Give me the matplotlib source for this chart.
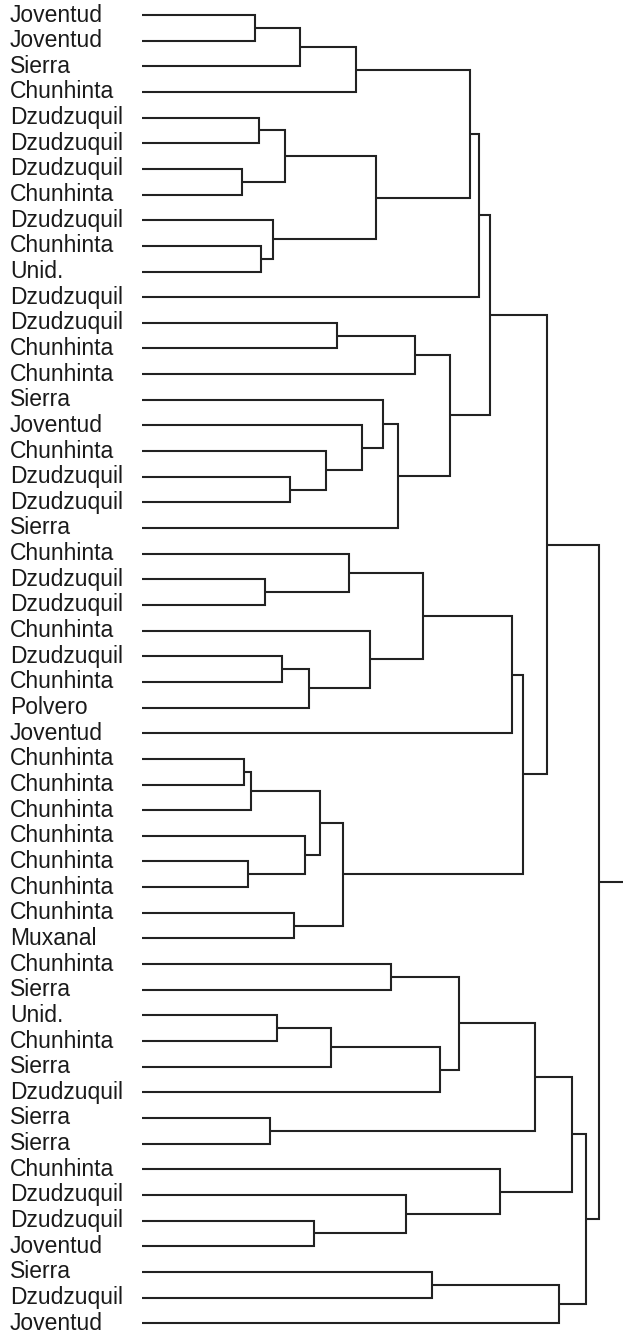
import numpy as np
import matplotlib.pyplot as plt

# leaf labels, top to bottom
labels = ["Joventud", "Joventud", "Sierra", "Chunhinta", "Dzudzuquil", "Dzudzuquil",
          "Dzudzuquil", "Chunhinta", "Dzudzuquil", "Chunhinta", "Unid.", "Dzudzuquil",
          "Dzudzuquil", "Chunhinta", "Chunhinta", "Sierra", "Joventud", "Chunhinta",
          "Dzudzuquil", "Dzudzuquil", "Sierra", "Chunhinta", "Dzudzuquil", "Dzudzuquil",
          "Chunhinta", "Dzudzuquil", "Chunhinta", "Polvero", "Joventud", "Chunhinta",
          "Chunhinta", "Chunhinta", "Chunhinta", "Chunhinta", "Chunhinta", "Chunhinta",
          "Muxanal", "Chunhinta", "Sierra", "Unid.", "Chunhinta", "Sierra",
          "Dzudzuquil", "Sierra", "Sierra", "Chunhinta", "Dzudzuquil", "Dzudzuquil",
          "Joventud", "Sierra", "Dzudzuquil", "Joventud"]

# linkage: node n_leaves + k joins left_child[k] and right_child[k] at merge_height[k]
left_child = [0, 52, 53, 4, 6, 55, 9, 8, 57, 54, 61, 12, 63, 18, 17, 16, 15, 68, 64,
              62, 22, 21, 25, 74, 24, 73, 77, 29, 79, 33, 32, 80, 35, 83, 78, 71, 37,
              39, 89, 90, 88, 43, 92, 47, 46, 45, 94, 49, 99, 98, 87]
right_child = [1, 2, 3, 5, 7, 56, 10, 58, 59, 60, 11, 13, 14, 19, 65, 66, 67, 20, 69,
               70, 23, 72, 26, 27, 75, 76, 28, 30, 31, 34, 81, 82, 36, 84, 85, 86, 38,
               40, 41, 42, 91, 44, 93, 48, 95, 96, 97, 50, 51, 100, 101]
merge_height = [0.247, 0.345, 0.468, 0.255, 0.218, 0.313, 0.261, 0.287, 0.513, 0.717,
                0.738, 0.427, 0.597, 0.324, 0.403, 0.482, 0.528, 0.561, 0.674, 0.762,
                0.270, 0.454, 0.306, 0.366, 0.498, 0.615, 0.810, 0.224, 0.239, 0.232,
                0.356, 0.390, 0.333, 0.439, 0.834, 0.887, 0.545, 0.295, 0.414, 0.652,
                0.694, 0.280, 0.860, 0.377, 0.577, 0.784, 0.941, 0.634, 0.913, 0.971,
                1.000]

root_stub = 0.0525  # extra length of the root edge

n = len(labels)
line_col = "#222222"
lw = 1.5

fig = plt.figure(figsize=(6.23, 13.36), dpi=100)
ax = fig.add_axes([142 / 623, 0, 1 - 142 / 623, 1])

# y of each node: leaves at their row, internal nodes midway between children
pos_y = list(range(n))
pos_x = [0.0] * n
for l, r, h in zip(left_child, right_child, merge_height):
    ax.plot([pos_x[l], h, h, pos_x[r]], [pos_y[l], pos_y[l], pos_y[r], pos_y[r]],
            color=line_col, lw=lw, solid_capstyle="butt", solid_joinstyle="miter")
    pos_y.append((pos_y[l] + pos_y[r]) / 2)
    pos_x.append(h)

# root edge running off to the right
top = len(pos_x) - 1
ax.plot([pos_x[top], pos_x[top] + root_stub], [pos_y[top], pos_y[top]],
        color=line_col, lw=lw, solid_capstyle="butt")

for i, lab in enumerate(labels):
    ax.text(-132 / 457, i, lab, ha="left", va="center", fontsize=16.5,
            family=["Liberation Sans", "DejaVu Sans"], color="#1a1a1a")

spacing = 25.65
ax.set_xlim(0, 1 + root_stub)
ax.set_ylim((1336 - 15) / spacing, -15 / spacing)
ax.axis("off")

fig.savefig("out.png", dpi=100)
